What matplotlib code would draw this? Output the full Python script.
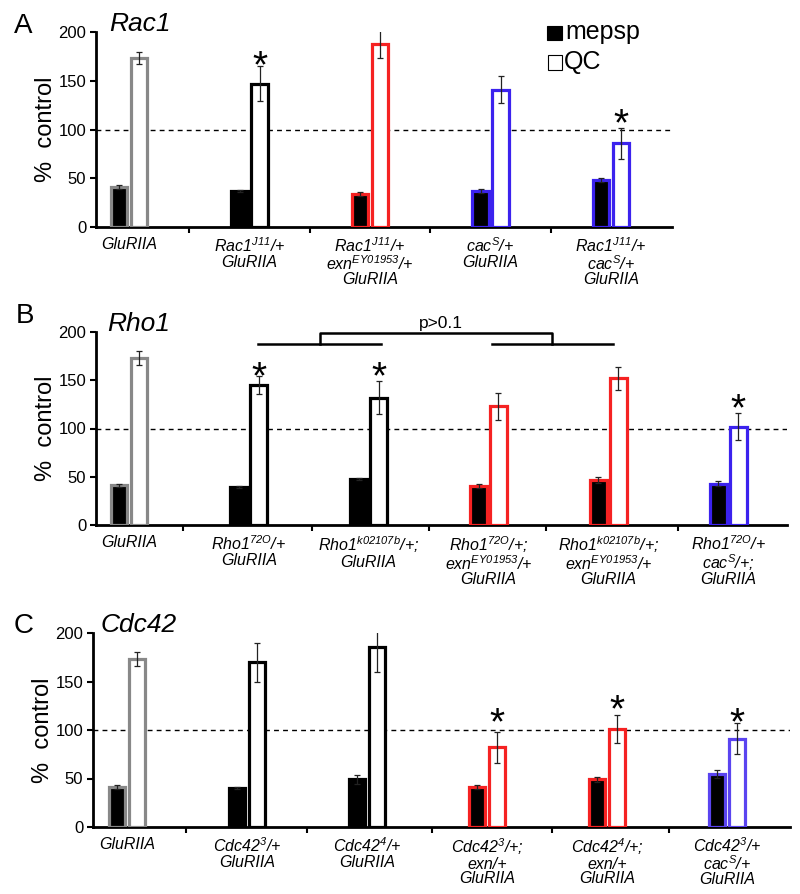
import matplotlib
matplotlib.use("Agg")
import matplotlib.pyplot as plt
from matplotlib.patches import Rectangle
import numpy as np

plt.rcParams['font.family'] = ['Liberation Sans', 'DejaVu Sans']
plt.rcParams['mathtext.fontset'] = 'custom'
plt.rcParams['mathtext.rm'] = 'Liberation Sans:italic'
plt.rcParams['mathtext.it'] = 'Liberation Sans:italic'
plt.rcParams['mathtext.default'] = 'it'

GRAY = '#888888'
BLACK = '#000000'
RED = '#f52222'
BLUE = '#3b22ee'
BLUE2 = '#5a44f0'

# ---------------- Panel A: Rac1 ----------------
a_labels = ["GluRIIA", "Rac1$^{J11}$/+\nGluRIIA", "Rac1$^{J11}$/+\nexn$^{EY01953}$/+\nGluRIIA",
            "cac$^{S}$/+\nGluRIIA", "Rac1$^{J11}$/+\ncac$^{S}$/+\nGluRIIA"]
a_mepsp = [41, 37, 34, 37, 48]
a_mepsp_err = [2, 1, 2, 2, 2]
a_qc = [173, 147, 188, 141, 86]
a_qc_err = [6, 18, 15, 14, 16]
a_colors = [GRAY, BLACK, RED, BLUE, BLUE]
a_star = [False, True, False, False, True]
a_star_y = [0, 177, 0, 0, 118]

# ---------------- Panel B: Rho1 ----------------
b_labels = ["GluRIIA", "Rho1$^{72O}$/+\nGluRIIA", "Rho1$^{k02107b}$/+;\nGluRIIA",
            "Rho1$^{72O}$/+;\nexn$^{EY01953}$/+\nGluRIIA",
            "Rho1$^{k02107b}$/+;\nexn$^{EY01953}$/+\nGluRIIA",
            "Rho1$^{72O}$/+\ncac$^{S}$/+;\nGluRIIA"]
b_mepsp = [41, 39, 48, 40, 47, 43]
b_mepsp_err = [2, 1, 1, 2, 3, 3]
b_qc = [173, 145, 132, 123, 152, 102]
b_qc_err = [7, 9, 17, 14, 12, 14]
b_colors = [GRAY, BLACK, BLACK, RED, RED, BLUE]
b_star = [False, True, True, False, False, True]
b_star_y = [0, 165, 165, 0, 0, 132]

# ---------------- Panel C: Cdc42 ----------------
c_labels = ["GluRIIA", "Cdc42$^{3}$/+\nGluRIIA", "Cdc42$^{4}$/+\nGluRIIA",
            "Cdc42$^{3}$/+;\nexn/+\nGluRIIA", "Cdc42$^{4}$/+;\nexn/+\nGluRIIA",
            "Cdc42$^{3}$/+\ncac$^{S}$/+\nGluRIIA"]
c_mepsp = [41, 40, 49, 41, 49, 55]
c_mepsp_err = [2, 1, 5, 2, 3, 4]
c_qc = [173, 170, 186, 82, 101, 91]
c_qc_err = [7, 20, 26, 16, 14, 16]
c_colors = [GRAY, BLACK, BLACK, RED, RED, BLUE2]
c_star = [False, False, False, True, True, True]
c_star_y = [0, 0, 0, 119, 133, 119]

W, H = 800, 894
fig = plt.figure(figsize=(W / 100, H / 100), dpi=100)


def px_axes(left, right, top, bottom):
    return fig.add_axes([left / W, 1 - bottom / H, (right - left) / W, (bottom - top) / H])


def draw_panel(ax, labels, mepsp, mepsp_err, qc, qc_err, colors, stars, star_y,
               xlim, boundaries):
    n = len(labels)
    x = np.arange(n)
    off = 0.083
    bw = 0.14
    ax.axhline(100, color='black', lw=1.0, ls=(0, (3.5, 3)), zorder=1)
    for i in range(n):
        ax.bar(x[i] - off, mepsp[i], width=bw, color='black', edgecolor=colors[i],
               linewidth=2.3, zorder=3)
        ax.bar(x[i] + off, qc[i], width=bw, color='white', edgecolor=colors[i],
               linewidth=2.3, zorder=3)
        ax.errorbar(x[i] - off, mepsp[i], yerr=mepsp_err[i], fmt='none', ecolor='#222222',
                    elinewidth=0.9, capsize=2.4, capthick=0.9, zorder=4)
        ax.errorbar(x[i] + off, qc[i], yerr=qc_err[i], fmt='none', ecolor='#222222',
                    elinewidth=0.9, capsize=2.4, capthick=0.9, zorder=4)
        if stars[i]:
            ax.annotate('*', xy=(x[i] + off, star_y[i]), xytext=(0, -23),
                        textcoords='offset pixels', ha='center', va='baseline',
                        fontsize=28, annotation_clip=False)
    ax.set_xlim(*xlim)
    ax.set_ylim(0, 200)
    ax.set_yticks([0, 50, 100, 150, 200])
    ax.tick_params(axis='y', labelsize=12, length=4, width=1.5, direction='out', pad=3)
    ax.set_xticks(x)
    ax.set_xticklabels(labels, fontsize=11.5, fontstyle='italic', linespacing=0.93)
    ax.tick_params(axis='x', length=0, pad=7)
    ax.set_xticks(boundaries, minor=True)
    ax.tick_params(axis='x', which='minor', length=4, width=1.5, direction='out')
    for s in ['top', 'right']:
        ax.spines[s].set_visible(False)
    ax.spines['left'].set_linewidth(2)
    ax.spines['bottom'].set_linewidth(2)
    ax.set_ylabel('%  control', fontsize=17, labelpad=1)


axA = px_axes(96, 672, 32, 227)
draw_panel(axA, a_labels, a_mepsp, a_mepsp_err, a_qc, a_qc_err, a_colors, a_star, a_star_y,
           (-0.274, 4.506), [0.5, 1.5, 2.5, 3.5])

axB = px_axes(96, 787, 332, 525)
draw_panel(axB, b_labels, b_mepsp, b_mepsp_err, b_qc, b_qc_err, b_colors, b_star, b_star_y,
           (-0.275, 5.49), [0.45, 1.53, 2.5, 3.48, 4.58])

axC = px_axes(93, 790, 633, 827)
draw_panel(axC, c_labels, c_mepsp, c_mepsp_err, c_qc, c_qc_err, c_colors, c_star, c_star_y,
           (-0.283, 5.525), [0.49, 1.5, 2.54, 3.54, 4.52])

# bracket in panel B
bk = dict(color='black', lw=1.8, clip_on=False, zorder=5)
axB.plot([1.075, 2.1], [188, 188], **bk)
axB.plot([3.03, 4.04], [188, 188], **bk)
axB.plot([1.59, 1.59, 3.53, 3.53], [188, 199, 199, 188], **bk)
axB.text(2.6, 204, 'p>0.1', ha='center', va='baseline', fontsize=12.5, clip_on=False)

# panel letters and titles
fig.text(14 / W, 1 - 33 / H, 'A', fontsize=20, ha='left', va='baseline')
fig.text(16 / W, 1 - 323 / H, 'B', fontsize=20, ha='left', va='baseline')
fig.text(14 / W, 1 - 633 / H, 'C', fontsize=20, ha='left', va='baseline')
fig.text(109 / W, 1 - 31 / H, 'Rac1', fontsize=19, fontstyle='italic', ha='left', va='baseline')
fig.text(107 / W, 1 - 331 / H, 'Rho1', fontsize=19, fontstyle='italic', ha='left', va='baseline')
fig.text(101 / W, 1 - 632 / H, 'Cdc42', fontsize=19, fontstyle='italic', ha='left', va='baseline')

# legend
fig.add_artist(Rectangle((547 / W, 1 - 40 / H), 15 / W, 14 / H, transform=fig.transFigure,
                         facecolor='black', edgecolor='black', lw=0.8))
fig.text(565 / W, 1 - 39 / H, 'mepsp', fontsize=18, ha='left', va='baseline')
fig.add_artist(Rectangle((547.5 / W, 1 - 69.5 / H), 14.5 / W, 14 / H, transform=fig.transFigure,
                         facecolor='white', edgecolor='black', lw=0.8))
fig.text(564 / W, 1 - 69 / H, 'QC', fontsize=18, ha='left', va='baseline')

fig.savefig('out.png', dpi=100)
